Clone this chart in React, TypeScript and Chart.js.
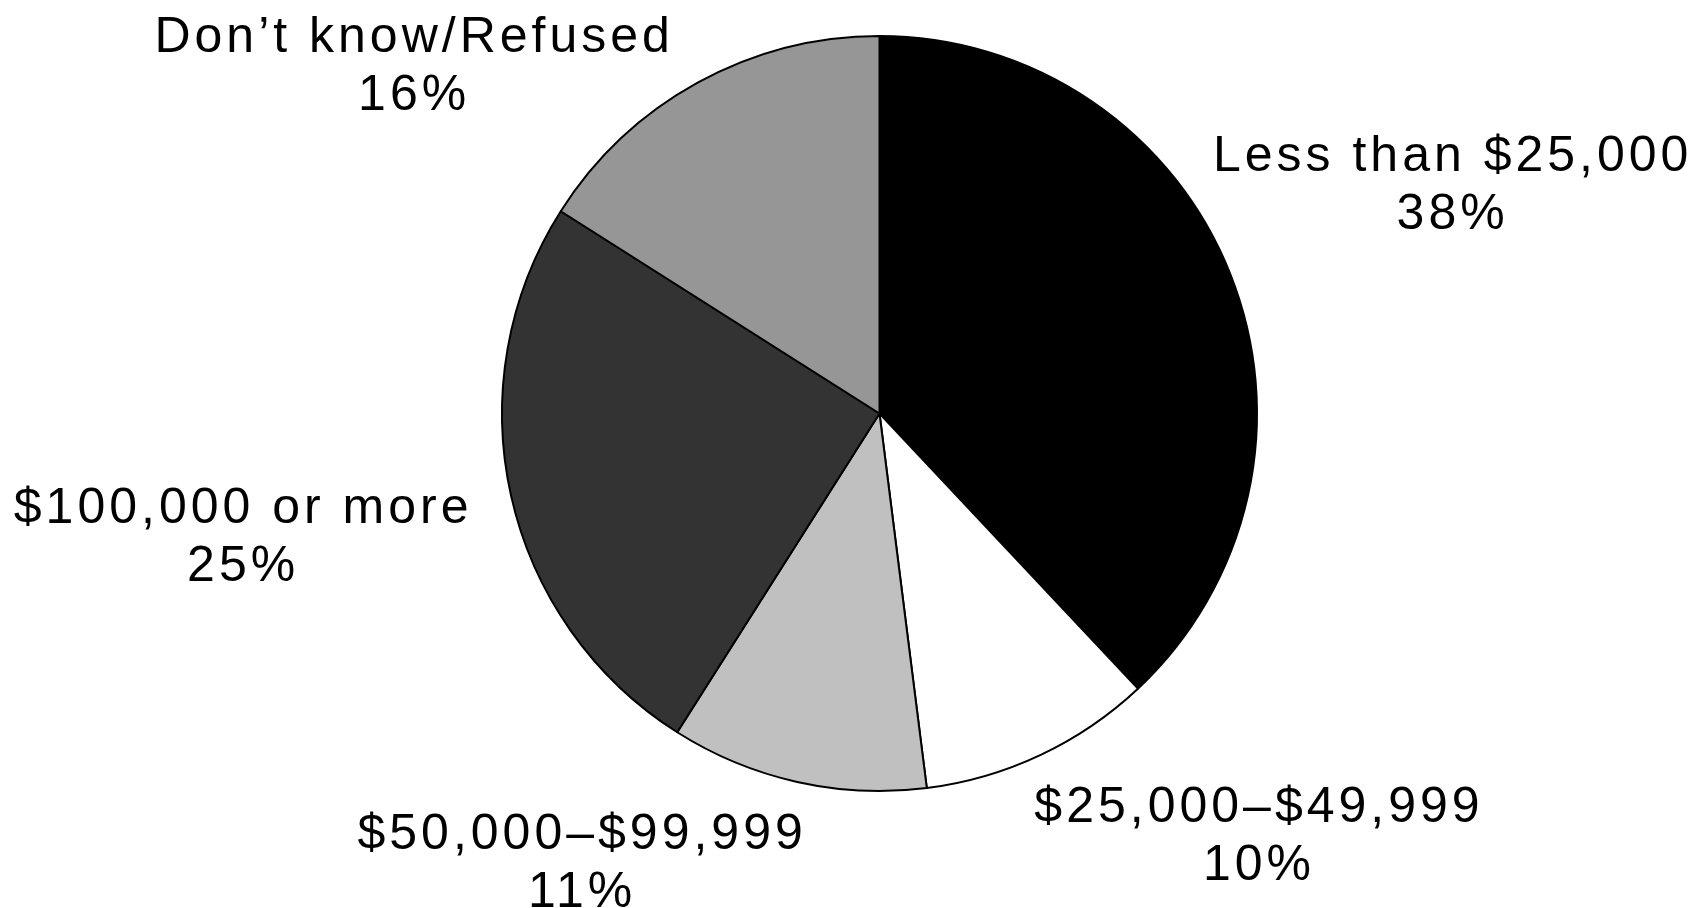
import React, { useEffect, useRef } from "react";
import { Chart, registerables } from "chart.js";

Chart.register(...registerables);

const categories = [
  "Less than $25,000",
  "$25,000–$49,999",
  "$50,000–$99,999",
  "$100,000 or more",
  "Don’t know/Refused",
];
const shares = [38, 10, 11, 25, 16];
const percentLabels = ["38%", "10%", "11%", "25%", "16%"];
const sliceColors = ["#000000", "#ffffff", "#c0c0c0", "#333333", "#969696"];
// label anchor (center x, first baseline y) in units of pie radius, relative to pie center
const labelAnchors: [number, number][] = [
  [1.513, -0.642],
  [1.0, 1.082],
  [-0.793, 1.154],
  [-1.691, 0.29],
  [-1.238, -0.958],
];

const labelPlugin = {
  id: "outerLabels",
  afterDatasetsDraw(chart: any) {
    const meta = chart.getDatasetMeta(0);
    const ctx = chart.ctx as CanvasRenderingContext2D;
    ctx.save();
    ctx.fillStyle = "#000";
    ctx.font = "50px 'Liberation Sans', Arial, sans-serif";
    (ctx as any).letterSpacing = "4px";
    ctx.textAlign = "center";
    ctx.textBaseline = "alphabetic";
    meta.data.forEach((arc: any, i: number) => {
      const { x, y, outerRadius } = arc.getProps(["x", "y", "outerRadius"], true);
      const [fx, fy] = labelAnchors[i];
      const lx = x + fx * outerRadius + 2;
      const ly = y + fy * outerRadius;
      ctx.fillText(categories[i], lx, ly);
      ctx.fillText(percentLabels[i], lx, ly + 58);
    });
    ctx.restore();
  },
};

export default function App() {
  const canvasRef = useRef<HTMLCanvasElement | null>(null);

  useEffect(() => {
    document.body.style.margin = "0";
    document.body.style.background = "#ffffff";
    const canvas = canvasRef.current;
    if (!canvas) return;
    const chart = new Chart(canvas, {
      type: "pie",
      data: {
        labels: categories,
        datasets: [
          {
            data: shares,
            backgroundColor: sliceColors,
            borderColor: "#000000",
            borderWidth: 2,
          },
        ],
      },
      options: {
        responsive: false,
        animation: false,
        devicePixelRatio: 1,
        layout: { padding: { left: 501, top: 35, right: 438, bottom: 116 } },
        plugins: {
          legend: { display: false },
          tooltip: { enabled: false },
        },
      },
      plugins: [labelPlugin],
    });
    return () => chart.destroy();
  }, []);

  return (
    <div style={{ width: 1696, height: 908, background: "#fff" }}>
      <canvas ref={canvasRef} width={1696} height={908} style={{ display: "block" }} />
    </div>
  );
}
